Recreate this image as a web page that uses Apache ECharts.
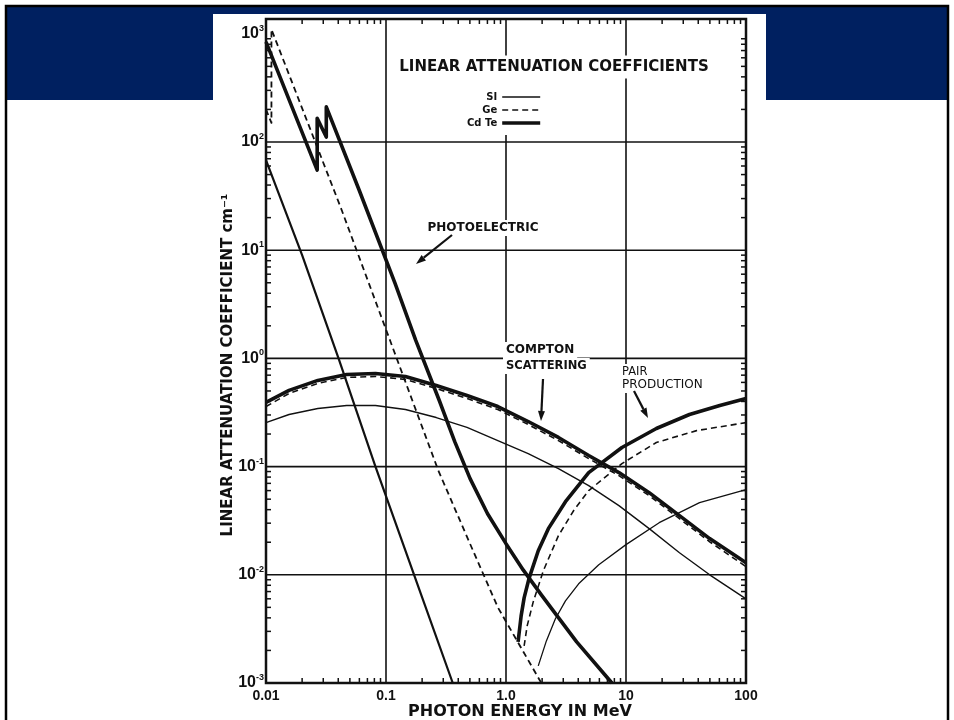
<!DOCTYPE html>
<html><head><meta charset="utf-8">
<script src="https://cdn.jsdelivr.net/npm/echarts@6/dist/echarts.min.js"></script>
<style>html,body{margin:0;padding:0;background:#fff}#c{width:954px;height:720px}</style>
</head><body><div id="c"></div>
<script>
// ---- tick labels ----
const xTickLabels = ['0.01', '0.1', '1.0', '10', '100'];
const yTickExponents = ['-3', '-2', '-1', '0', '1', '2', '3'];
const xGridValues = [0.1, 1, 10];
const yGridValues = [0.01, 0.1, 1, 10, 100];
const xMinorTicks = [0.02,0.03,0.04,0.05,0.06,0.07,0.08,0.09, 0.2,0.3,0.4,0.5,0.6,0.7,0.8,0.9, 2,3,4,5,6,7,8,9, 20,30,40,50,60,70,80,90];
const yMinorTicks = [0.002,0.003,0.004,0.005,0.006,0.007,0.008,0.009, 0.02,0.03,0.04,0.05,0.06,0.07,0.08,0.09,
  0.2,0.3,0.4,0.5,0.6,0.7,0.8,0.9, 2,3,4,5,6,7,8,9, 20,30,40,50,60,70,80,90, 200,300,400,500,600,700,800,900];

// ---- legend ----
const legendNames = ['SI', 'Ge', 'Cd Te'];

// ---- series values [energy MeV, coefficient cm^-1] ----
const siCompton = [[0.01,0.255],[0.01556,0.303],[0.02704,0.344],[0.04699,0.367],[0.0817,0.367],[0.1452,0.337],[0.2624,0.284],[0.4732,0.230],[0.855,0.174],[1.531,0.132],[2.735,0.0958],[4.887,0.0667],[8.73,0.0436],[15.6,0.0267],[27.9,0.0160],[49.8,0.0100],[100,0.0060]];
const geCompton = [[0.01,0.359],[0.01556,0.474],[0.02704,0.587],[0.04699,0.667],[0.0817,0.681],[0.1452,0.639],[0.2624,0.527],[0.4732,0.426],[0.855,0.337],[1.531,0.245],[2.735,0.174],[4.887,0.1186],[8.73,0.0825],[15.6,0.0539],[27.9,0.0330],[49.8,0.0202],[100,0.0119]];
const cdteCompton = [[0.01,0.392],[0.01556,0.506],[0.02704,0.626],[0.04699,0.711],[0.0817,0.726],[0.1452,0.681],[0.2624,0.562],[0.4732,0.454],[0.855,0.359],[1.531,0.261],[2.735,0.186],[4.887,0.1265],[8.73,0.0880],[15.6,0.0574],[27.9,0.0352],[49.8,0.0216],[100,0.0129]];
const siPhoto = [[0.01,68],[0.02,9],[0.0405,0.98],[0.0817,0.1],[0.2,0.0062],[0.36,0.001]];
const gePhoto = [[0.01,200],[0.0111,150],[0.0111,1100],[0.0428,23.4],[0.108,1.47],[0.273,0.092],[0.5,0.0195],[0.855,0.005],[1.97,0.001]];
const cdtePhoto = [[0.01,843],[0.0267,55],[0.0267,166],[0.0318,111],[0.0318,211],[0.0597,36],[0.119,4.94],[0.177,1.47],[0.278,0.408],[0.374,0.170],[0.502,0.0774],[0.702,0.0367],[1.0,0.0194],[1.39,0.0111],[1.97,0.00653],[3.88,0.0024],[7.63,0.001]];
const siPair = [[1.857,0.00144],[2.17,0.00245],[2.58,0.00392],[3.13,0.00574],[4.03,0.00826],[5.93,0.0124],[10,0.0190],[18.9,0.0303],[41,0.0464],[100,0.0613]];
const gePair = [[1.416,0.0022],[1.501,0.00337],[1.686,0.00562],[2.046,0.0109],[2.735,0.0230],[3.656,0.0391],[4.887,0.060],[9.25,0.1066],[17.9,0.167],[38.7,0.215],[100,0.255]];
const cdtePair = [[1.261,0.0024],[1.337,0.00417],[1.416,0.00612],[1.561,0.00938],[1.857,0.01668],[2.254,0.0267],[3.13,0.0474],[4.887,0.088],[9.25,0.150],[17.9,0.225],[33.8,0.303],[60.5,0.367],[100,0.426]];

const X_MIN = 0.01, X_MAX = 100, Y_MIN = 0.001, Y_MAX = 1370;
const INK = '#111';
const W = { 'SI': 1.4, 'Ge': 1.6, 'Cd Te': 3.6 };
const F = (size, weight) => (weight || 'bold') + ' ' + size + 'px "DejaVu Sans"';

function lineSeries(name, data, width, dashed) {
  return {
    type: 'line', name: name, data: data, symbol: 'none', showSymbol: false, smooth: false,
    lineStyle: { color: INK, width: width, type: dashed ? [6, 4] : 'solid', join: 'round' },
    itemStyle: { color: INK }, z: 2, silent: true
  };
}

function arrow(x1, y1, x2, y2) {
  const dx = x2 - x1, dy = y2 - y1, len = Math.hypot(dx, dy), ux = dx / len, uy = dy / len;
  const hl = 10, hw = 3.5, bx = x2 - ux * hl, by = y2 - uy * hl;
  return [
    { type: 'line', z: 10, shape: { x1: x1, y1: y1, x2: bx, y2: by }, style: { stroke: INK, lineWidth: 2.2 } },
    { type: 'polygon', z: 10, shape: { points: [[x2, y2], [bx - uy * hw, by + ux * hw], [bx + uy * hw, by - ux * hw]] }, style: { fill: INK } }
  ];
}

const tickData = [];
xMinorTicks.forEach(v => { tickData.push([v, Y_MIN, 0]); tickData.push([v, Y_MAX, 1]); });
yMinorTicks.forEach(v => { tickData.push([X_MIN, v, 2]); tickData.push([X_MAX, v, 3]); });
const gridData = xGridValues.map(v => [v, 1, 0]).concat(yGridValues.map(v => [1, v, 1]));

const chart = echarts.init(document.getElementById('c'), null, { renderer: 'canvas' });
chart.setOption({
  animation: false,
  backgroundColor: '#ffffff',
  grid: { left: 266, right: 208, top: 19, bottom: 37, show: true, borderColor: INK, borderWidth: 2.5, backgroundColor: 'transparent' },
  xAxis: {
    type: 'log', logBase: 10, min: X_MIN, max: X_MAX, splitNumber: 4,
    axisLine: { show: false }, axisTick: { show: false }, splitLine: { show: false },
    axisLabel: {
      margin: 6, color: INK, fontSize: 14, fontWeight: 'bold', fontFamily: 'Liberation Sans',
      formatter: v => { const l = Math.log10(v), k = Math.round(l); return Math.abs(l - k) > 1e-6 ? '' : (xTickLabels[k + 2] || ''); }
    }
  },
  yAxis: {
    type: 'log', logBase: 10, min: Y_MIN, max: Y_MAX, splitNumber: 6,
    axisLine: { show: false }, axisTick: { show: false }, splitLine: { show: false },
    axisLabel: {
      margin: 2, color: INK,
      formatter: v => { const l = Math.log10(v), k = Math.round(l); if (Math.abs(l - k) > 1e-6) return ''; const e = yTickExponents[k + 3]; return e === undefined ? '' : '{b|10}{e|' + e + '}'; },
      rich: {
        b: { fontSize: 16, fontWeight: 'bold', fontFamily: 'Liberation Sans', color: INK, lineHeight: 20 },
        e: { fontSize: 9, fontWeight: 'bold', fontFamily: 'Liberation Sans', color: INK, verticalAlign: 'top', lineHeight: 11 }
      }
    }
  },
  legend: {
    data: legendNames.map(n => ({ name: n, lineStyle: { width: W[n] } })),
    orient: 'vertical', align: 'right', right: 407, top: 87,
    itemWidth: 38, itemHeight: 10, itemGap: 3, z: 6, selectedMode: false,
    itemStyle: { opacity: 0 },
    textStyle: { fontFamily: 'DejaVu Sans', fontWeight: 'bold', fontSize: 10, color: INK }
  },
  series: [
    lineSeries('SI', siCompton, 1.4, false),
    lineSeries('Ge', geCompton, 1.6, true),
    lineSeries('Cd Te', cdteCompton, 3.6, false),
    lineSeries('SI', siPhoto, 2.2, false),
    lineSeries('Ge', gePhoto, 1.8, true),
    lineSeries('Cd Te', cdtePhoto, 3.6, false),
    lineSeries('SI', siPair, 1.3, false),
    lineSeries('Ge', gePair, 1.6, true),
    lineSeries('Cd Te', cdtePair, 3.6, false),
    {
      type: 'custom', name: 'gridlines', silent: true, z: 1, data: gridData,
      renderItem: (params, api) => {
        const cs = params.coordSys, p = api.coord([api.value(0), api.value(1)]);
        const shape = api.value(2) === 0
          ? { x1: p[0], y1: cs.y, x2: p[0], y2: cs.y + cs.height }
          : { x1: cs.x, y1: p[1], x2: cs.x + cs.width, y2: p[1] };
        return { type: 'line', shape: shape, style: { stroke: INK, lineWidth: 1.6 } };
      }
    },
    {
      type: 'custom', name: 'minorTicks', silent: true, z: 3, data: tickData,
      renderItem: (params, api) => {
        const p = api.coord([api.value(0), api.value(1)]), s = api.value(2), L = 5;
        let x2 = p[0], y2 = p[1];
        if (s === 0) y2 -= L; else if (s === 1) y2 += L; else if (s === 2) x2 += L; else x2 -= L;
        return { type: 'line', shape: { x1: p[0], y1: p[1], x2: x2, y2: y2 }, style: { stroke: INK, lineWidth: 1.5 } };
      }
    }
  ],
  graphic: [
    { type: 'rect', z: -10, shape: { x: 7, y: 7, width: 940, height: 93 }, style: { fill: '#002060' } },
    { type: 'rect', z: -9, shape: { x: 213, y: 14, width: 553, height: 710 }, style: { fill: '#ffffff' } },
    { type: 'rect', z: -8, shape: { x: 6, y: 6, width: 942, height: 730 }, style: { fill: 'none', stroke: '#000', lineWidth: 2.5 } },
    { type: 'rect', z: 5, shape: { x: 462, y: 76, width: 90, height: 59 }, style: { fill: '#ffffff' } },
    { type: 'text', z: 10, x: 554, y: 67, style: { text: 'LINEAR ATTENUATION COEFFICIENTS', font: F(15), fill: INK, align: 'center', verticalAlign: 'middle', backgroundColor: '#fff', padding: [4, 6] } },
    { type: 'text', z: 10, x: 228, y: 365, rotation: Math.PI / 2, style: { text: 'LINEAR ATTENUATION COEFFICIENT cm⁻¹', font: F(15), fill: INK, align: 'center', verticalAlign: 'middle' } },
    { type: 'text', z: 10, x: 520, y: 712, style: { text: 'PHOTON ENERGY IN MeV', font: F(16), fill: INK, align: 'center', verticalAlign: 'middle' } },
    { type: 'text', z: 10, x: 483, y: 228, style: { text: 'PHOTOELECTRIC', font: F(12), fill: INK, align: 'center', verticalAlign: 'middle', backgroundColor: '#fff', padding: [2, 3] } },
    { type: 'text', z: 10, x: 503, y: 350, style: { text: 'COMPTON', font: F(12), fill: INK, align: 'left', verticalAlign: 'middle', backgroundColor: '#fff', padding: [3, 3, 1, 3] } },
    { type: 'text', z: 10, x: 503, y: 366, style: { text: 'SCATTERING', font: F(11.5), fill: INK, align: 'left', verticalAlign: 'middle', backgroundColor: '#fff', padding: [1, 3, 3, 3] } },
    { type: 'text', z: 10, x: 619, y: 372, style: { text: 'PAIR', font: F(11.5, 'normal'), fill: INK, align: 'left', verticalAlign: 'middle', backgroundColor: '#fff', padding: [3, 3, 1, 3] } },
    { type: 'text', z: 10, x: 619, y: 385, style: { text: 'PRODUCTION', font: F(12, 'normal'), fill: INK, align: 'left', verticalAlign: 'middle', backgroundColor: '#fff', padding: [1, 3, 3, 3] } }
  ].concat(arrow(452, 235, 416, 264), arrow(543, 379, 541, 421), arrow(634, 391, 648, 418))
});
</script></body></html>
